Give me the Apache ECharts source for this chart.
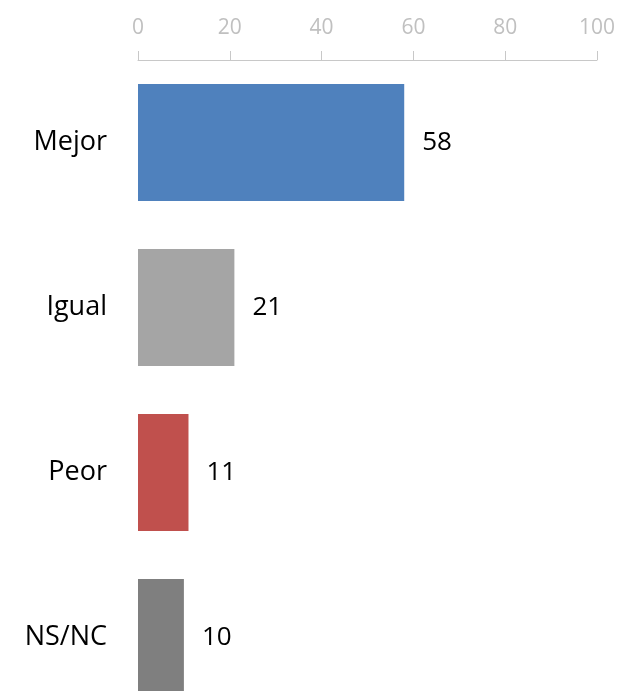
<!DOCTYPE html>
<html>
<head>
<meta charset="utf-8">
<script src="https://cdn.jsdelivr.net/npm/echarts@6/dist/echarts.min.js"></script>
<style>
  html, body { margin: 0; padding: 0; background: #fff; overflow: hidden; }
  /* chart is taller than the window: the last bar is cut at the bottom like the original */
  #main { width: 619px; height: 720px; }
</style>
</head>
<body>
<div id="main"></div>
<script>
var categories = ['Mejor', 'Igual', 'Peor', 'NS/NC'];
var values = [58, 21, 11, 10];
var barColors = ['#4f81bd', '#a5a5a5', '#c0504d', '#7f7f7f'];
var axisTicks = [0, 20, 40, 60, 80, 100];

var myChart = echarts.init(document.getElementById('main'));
var font = '"Open Sans", "Noto Sans", sans-serif';

myChart.setOption({
    animation: false,
    grid: { left: 138, right: 22, top: 60, bottom: 0, containLabel: false },
    xAxis: {
        type: 'value',
        position: 'top',
        min: axisTicks[0],
        max: axisTicks[axisTicks.length - 1],
        interval: 20,
        axisLine: { show: true, lineStyle: { color: '#c8c8c8', width: 1 } },
        axisTick: { show: true, length: 9, lineStyle: { color: '#c8c8c8' } },
        axisLabel: { color: '#c0c0c0', fontSize: 21, fontFamily: font, margin: 21 },
        splitLine: { show: false }
    },
    yAxis: {
        type: 'category',
        inverse: true,
        data: categories,
        axisLine: { show: false },
        axisTick: { show: false },
        axisLabel: { color: '#000', fontSize: 27, fontFamily: font, margin: 31 }
    },
    series: [{
        type: 'bar',
        barCategoryGap: '29%',
        data: values.map(function (v, i) {
            return { value: v, itemStyle: { color: barColors[i] } };
        }),
        label: {
            show: true,
            position: 'right',
            distance: 18,
            color: '#000',
            fontSize: 26,
            fontFamily: font
        }
    }]
});
</script>
</body>
</html>
